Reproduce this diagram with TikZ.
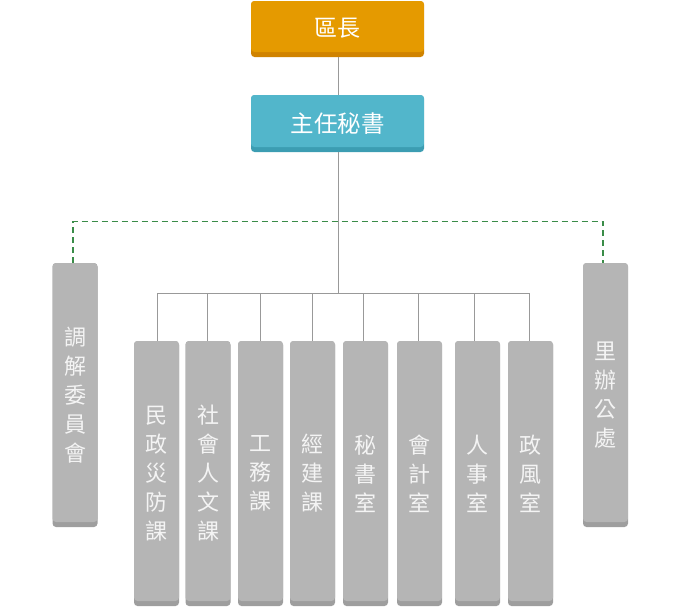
\documentclass[tikz,border=0pt]{standalone}
\usepackage{fontspec}
\newfontfamily\cjk{Noto Sans CJK TC}
\definecolor{orangeA}{HTML}{E59A00}
\definecolor{orangeB}{HTML}{D08300}
\definecolor{tealA}{HTML}{52B6CB}
\definecolor{tealB}{HTML}{3C9DB2}
\definecolor{grayA}{HTML}{B5B5B5}
\definecolor{grayB}{HTML}{9E9E9E}
\definecolor{lineC}{HTML}{999999}
\definecolor{dashC}{HTML}{3A8C48}
\definecolor{txtC}{HTML}{F4F4F4}
\tikzset{
  box/.style n args={4}{rectangle, rounded corners=3.5pt, inner sep=0pt, outer sep=0pt,
    fill=#2, minimum width=#3, minimum height=#4,
    path picture={\fill[#1, rounded corners=3.5pt]
      (path picture bounding box.north west) rectangle
      ([yshift=5pt]path picture bounding box.south east);}},
  topbox/.style={box={orangeA}{orangeB}{173pt}{56pt}, text=white,
    font=\cjk\fontsize{23}{26}\selectfont},
  secbox/.style={box={tealA}{tealB}{173pt}{57pt}, text=white,
    font=\cjk\fontsize{23.5}{26}\selectfont},
  unitbox/.style={box={grayA}{grayB}{45pt}{265pt}, text=txtC, align=center,
    font=\cjk\fontsize{22}{29}\selectfont},
  sidebox/.style={box={grayA}{grayB}{45pt}{264pt}, text=txtC, align=center,
    font=\cjk\fontsize{22}{29}\selectfont},
  conn/.style={draw=lineC, line width=1pt},
  dconn/.style={draw=dashC, line width=1.2pt, dash pattern=on 6pt off 4pt},
  x=1pt, y=1pt
}
\begin{document}
\begin{tikzpicture}
\useasboundingbox (0,0) rectangle (683,-606);
% top nodes
\node[topbox] (chief) at (337.5,-29) {\raisebox{2.5pt}{區長}};
\node[secbox] (sec) at (337.5,-123.5) {\raisebox{2.5pt}{主任秘書}};
% side nodes
\node[sidebox] (mediate) at (75,-395) {\raisebox{2.5pt}{\parbox{30pt}{\centering 調\\解\\委\\員\\會}}};
\node[sidebox] (village) at (605.5,-395) {\raisebox{2.5pt}{\parbox{30pt}{\centering 里\\辦\\公\\處}}};
% unit nodes
\node[unitbox] (u1) at (156.5,-473.5) {\raisebox{2.5pt}{\parbox{30pt}{\centering 民\\政\\災\\防\\課}}};
\node[unitbox] (u2) at (208,-473.5) {\raisebox{2.5pt}{\parbox{30pt}{\centering 社\\會\\人\\文\\課}}};
\node[unitbox] (u3) at (260.5,-473.5) {\raisebox{2.5pt}{\parbox{30pt}{\centering 工\\務\\課}}};
\node[unitbox] (u4) at (312.5,-473.5) {\raisebox{2.5pt}{\parbox{30pt}{\centering 經\\建\\課}}};
\node[unitbox] (u5) at (365.5,-473.5) {\raisebox{2.5pt}{\parbox{30pt}{\centering 秘\\書\\室}}};
\node[unitbox] (u6) at (419.5,-473.5) {\raisebox{2.5pt}{\parbox{30pt}{\centering 會\\計\\室}}};
\node[unitbox] (u7) at (477.5,-473.5) {\raisebox{2.5pt}{\parbox{30pt}{\centering 人\\事\\室}}};
\node[unitbox] (u8) at (530.5,-473.5) {\raisebox{2.5pt}{\parbox{30pt}{\centering 政\\風\\室}}};
% coordinates
\coordinate (bus) at (338,-293);
% dashed link to side units
\draw[dconn] (mediate.north -| 73,0) -- (73,-221.5) -- (603,-221.5) -- (village.north -| 603,0);
% solid connectors
\draw[conn] (chief.south -| 338,0) -- (sec.north -| 338,0);
\draw[conn] (sec.south -| 338,0) -- (bus);
\draw[conn] (157,-293) -- (529,-293);
\foreach \n/\x in {u1/157,u2/207,u3/260,u4/312,u5/363,u6/418,u7/474,u8/529}{
  \draw[conn] (\x,-293) -- (\n.north -| \x,0);
}
\end{tikzpicture}
\end{document}
